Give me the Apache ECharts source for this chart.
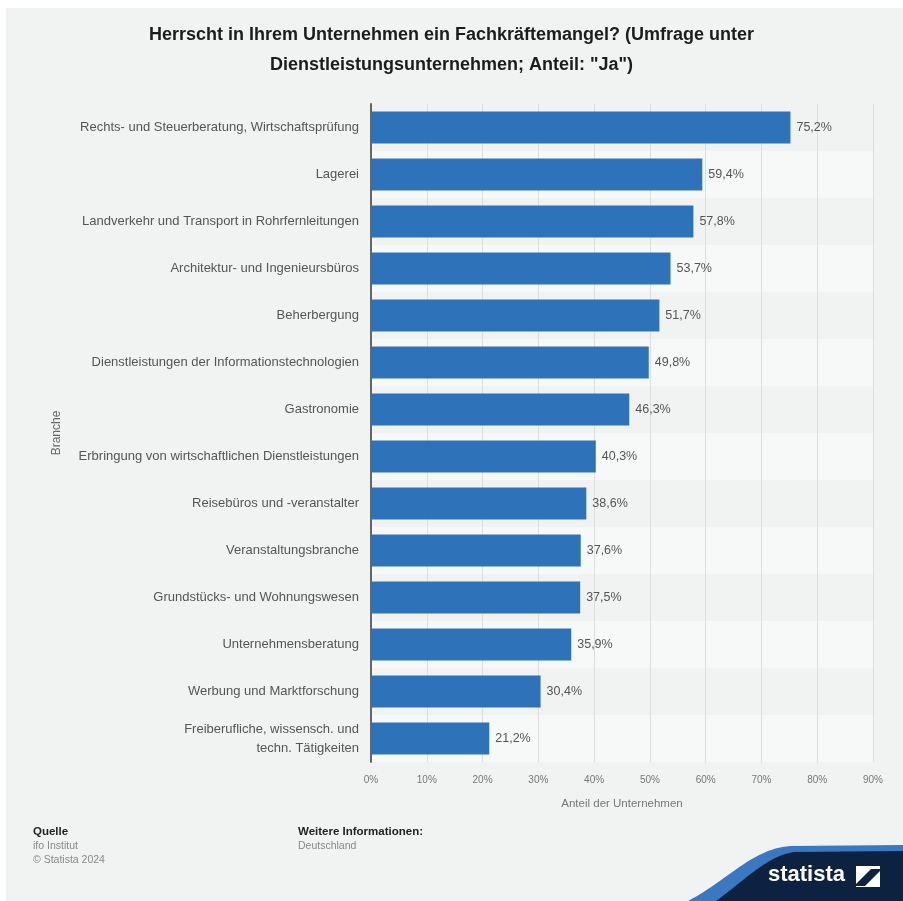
<!DOCTYPE html>
<html>
<head>
<meta charset="utf-8">
<script src="https://cdn.jsdelivr.net/npm/echarts@6/dist/echarts.min.js"></script>
<style>
  html, body { margin: 0; padding: 0; background: #fff; }
  #chart { width: 903px; height: 901px; }
</style>
</head>
<body>
<div id="chart"></div>
<script>
const branchen = [
  'Rechts- und Steuerberatung, Wirtschaftsprüfung',
  'Lagerei',
  'Landverkehr und Transport in Rohrfernleitungen',
  'Architektur- und Ingenieursbüros',
  'Beherbergung',
  'Dienstleistungen der Informationstechnologien',
  'Gastronomie',
  'Erbringung von wirtschaftlichen Dienstleistungen',
  'Reisebüros und -veranstalter',
  'Veranstaltungsbranche',
  'Grundstücks- und Wohnungswesen',
  'Unternehmensberatung',
  'Werbung und Marktforschung',
  'Freiberufliche, wissensch. und\ntechn. Tätigkeiten'
]
const anteilJa = [75.2, 59.4, 57.8, 53.7, 51.7, 49.8, 46.3, 40.3, 38.6, 37.6, 37.5, 35.9, 30.4, 21.2]
const xTicks = [0, 10, 20, 30, 40, 50, 60, 70, 80, 90]

const chart = echarts.init(document.getElementById('chart'))
const fmtPct = (v) => String(v).replace('.', ',') + '%'
const font = '"Liberation Sans", Arial, sans-serif'

// sample a cubic bezier for the logo swoosh
const bez = (p0, p1, p2, p3, n) => {
  const pts = []
  for (let i = 0; i <= n; i++) {
    const t = i / n, u = 1 - t
    pts.push([
      u * u * u * p0[0] + 3 * u * u * t * p1[0] + 3 * u * t * t * p2[0] + t * t * t * p3[0],
      u * u * u * p0[1] + 3 * u * u * t * p1[1] + 3 * u * t * t * p2[1] + t * t * t * p3[1]
    ])
  }
  return pts
}
const blueTop = bez([688, 901], [728, 880], [752, 849], [790, 846], 30).concat([[903, 845]])
const navyTop = bez([716, 901], [745, 880], [768, 855], [795, 852], 30).concat([[903, 851]])

const option = {
  backgroundColor: '#ffffff',
  textStyle: { fontFamily: font },
  title: {
    left: 'center',
    top: 15,
    text: 'Herrscht in Ihrem Unternehmen ein Fachkräftemangel? (Umfrage unter\nDienstleistungsunternehmen; Anteil: "Ja")',
    textStyle: { color: '#1c1c1c', fontSize: 18, fontWeight: 'bold', lineHeight: 30, fontFamily: font }
  },
  grid: { left: 371, right: 30, top: 104, bottom: 139 },
  xAxis: {
    type: 'value',
    min: xTicks[0],
    max: xTicks[xTicks.length - 1],
    interval: 10,
    name: 'Anteil der Unternehmen',
    nameLocation: 'middle',
    nameGap: 36,
    nameTextStyle: { color: '#777', fontSize: 11.5 },
    axisLine: { show: false },
    axisTick: { show: false },
    axisLabel: { color: '#777', fontSize: 10, margin: 13, formatter: '{value}%' },
    splitLine: { show: true, lineStyle: { color: '#dedede', width: 1 } }
  },
  yAxis: {
    type: 'category',
    inverse: true,
    data: branchen,
    name: 'Branche',
    nameLocation: 'middle',
    nameGap: 308,
    nameRotate: 90,
    nameTextStyle: { color: '#666', fontSize: 12 },
    axisLine: { show: true, lineStyle: { color: '#666', width: 2 } },
    axisTick: { show: false },
    axisLabel: { color: '#555', fontSize: 13, margin: 12, lineHeight: 19, align: 'right' },
    splitArea: { show: true, areaStyle: { color: ['rgba(255,255,255,0.0)', 'rgba(255,255,255,0.45)'] } }
  },
  series: [{
    type: 'bar',
    data: anteilJa,
    barWidth: '68%',
    itemStyle: { color: '#2e72b9' },
    label: {
      show: true,
      position: 'right',
      distance: 6,
      color: '#555',
      fontSize: 12.5,
      formatter: (p) => fmtPct(p.value)
    }
  }],
  graphic: [
    { type: 'rect', z: -10, silent: true, shape: { x: 6, y: 8, width: 897, height: 893 }, style: { fill: '#f1f2f2' } },
    { type: 'text', x: 33, y: 826, style: { text: 'Quelle', fill: '#222', font: 'bold 11.5px ' + font } },
    { type: 'text', x: 33, y: 841, style: { text: 'ifo Institut', fill: '#888', font: '10.5px ' + font } },
    { type: 'text', x: 33, y: 855, style: { text: '© Statista 2024', fill: '#888', font: '10.5px ' + font } },
    { type: 'text', x: 298, y: 826, style: { text: 'Weitere Informationen:', fill: '#222', font: 'bold 11.5px ' + font } },
    { type: 'text', x: 298, y: 841, style: { text: 'Deutschland', fill: '#888', font: '10.5px ' + font } },
    {
      type: 'polygon',
      shape: { points: blueTop.concat([[903, 901]]) },
      style: { fill: '#3a78c2' }
    },
    {
      type: 'polygon',
      shape: { points: navyTop.concat([[903, 901]]) },
      style: { fill: '#0d2240' }
    },
    { type: 'text', x: 768, y: 864, style: { text: 'statista', fill: '#fff', font: 'bold 22px ' + font } },
    { type: 'rect', shape: { x: 856, y: 866, width: 24, height: 21 }, style: { fill: '#fff' } },
    {
      type: 'polygon',
      shape: { points: [[856, 884], [871, 869], [880, 869], [880, 871], [865, 886], [856, 886]] },
      style: { fill: '#0d2240' }
    }
  ]
}
chart.setOption(option)
</script>
</body>
</html>
